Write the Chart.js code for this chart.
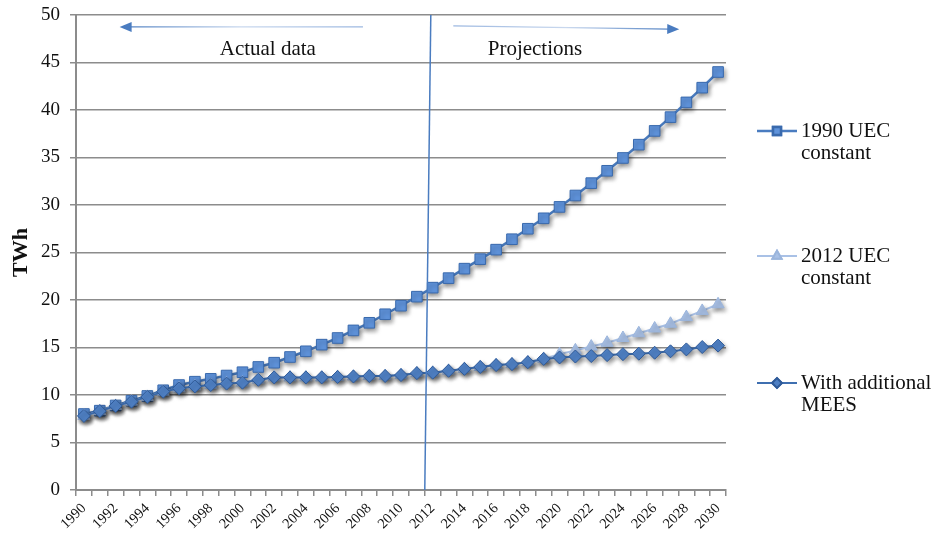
<!DOCTYPE html>
<html>
<head>
<meta charset="utf-8">
<script src="https://cdn.jsdelivr.net/npm/chart.js@4/dist/chart.umd.min.js"></script>
<style>
  html, body { margin: 0; padding: 0; background: #fff; }
  #wrap { width: 936px; height: 537px; position: relative; }
</style>
</head>
<body>
<div id="wrap"><canvas id="chart"></canvas></div>
<script>
const years = ["1990", "1991", "1992", "1993", "1994", "1995", "1996", "1997", "1998", "1999",
  "2000", "2001", "2002", "2003", "2004", "2005", "2006", "2007", "2008", "2009",
  "2010", "2011", "2012", "2013", "2014", "2015", "2016", "2017", "2018", "2019",
  "2020", "2021", "2022", "2023", "2024", "2025", "2026", "2027", "2028", "2029", "2030"];

const uec1990 = [8.0, 8.35, 8.9, 9.4, 9.9, 10.5, 11.05, 11.4, 11.7, 12.05,
  12.4, 12.95, 13.4, 14.0, 14.6, 15.3, 16.0, 16.8, 17.6, 18.5,
  19.4, 20.35, 21.3, 22.3, 23.3, 24.3, 25.3, 26.4, 27.5, 28.6,
  29.8, 31.0, 32.3, 33.6, 34.95, 36.35, 37.8, 39.25, 40.8, 42.35, 44.0];

const uec2012 = [7.8, 8.3, 8.85, 9.3, 9.8, 10.35, 10.7, 10.9, 11.05, 11.2,
  11.3, 11.6, 11.85, 11.85, 11.85, 11.85, 11.9, 11.95, 12.0, 12.0,
  12.1, 12.3, 12.35, 12.55, 12.75, 12.95, 13.15, 13.25, 13.45, 13.8,
  14.3, 14.7, 15.1, 15.5, 16.0, 16.5, 17.0, 17.5, 18.2, 18.85, 19.55];

const withMees = [7.8, 8.3, 8.85, 9.3, 9.8, 10.35, 10.7, 10.9, 11.05, 11.2,
  11.3, 11.6, 11.85, 11.85, 11.85, 11.85, 11.9, 11.95, 12.0, 12.0,
  12.1, 12.3, 12.35, 12.55, 12.75, 12.95, 13.15, 13.25, 13.45, 13.8,
  13.95, 14.05, 14.1, 14.2, 14.3, 14.35, 14.45, 14.6, 14.8, 15.05, 15.2];

const seriesNames = [["1990 UEC", "constant"], ["2012 UEC", "constant"], ["With additional", "MEES"]];

const SERIF = "'Liberation Serif', 'Times New Roman', serif";
const BLUE = "#4a7cc0";

// annotation placement, in category index / axis value
const splitIndex = 21.5;
const notes = [
  { text: "Actual data", at: 11.6, value: 46.4 },
  { text: "Projections", at: 28.45, value: 46.4 }
];
const arrows = [
  { from: 17.6, to: 2.25, v0: 48.75, v1: 48.75 },
  { from: 23.3, to: 37.55, v0: 48.85, v1: 48.5 }
];

const shadowPlugin = {
  id: "shadow",
  beforeDatasetsDraw(chart) {
    const ctx = chart.ctx;
    ctx.save();
    ctx.shadowColor = "rgba(0,0,0,0.35)";
    ctx.shadowBlur = 4;
    ctx.shadowOffsetX = 2;
    ctx.shadowOffsetY = 3;
  },
  afterDatasetsDraw(chart) {
    chart.ctx.restore();
  }
};

const notesPlugin = {
  id: "notes",
  afterDatasetsDraw(chart) {
    const ctx = chart.ctx;
    const x = chart.scales.x, y = chart.scales.y;
    ctx.save();
    // split line
    ctx.strokeStyle = BLUE;
    ctx.lineWidth = 1.5;
    ctx.beginPath();
    ctx.moveTo(x.getPixelForValue(splitIndex), y.getPixelForValue(0));
    ctx.lineTo(x.getPixelForValue(splitIndex + 0.38), y.getPixelForValue(50));
    ctx.stroke();

    arrows.forEach(a => {
      const x0 = x.getPixelForValue(a.from), y0 = y.getPixelForValue(a.v0);
      const x1 = x.getPixelForValue(a.to), y1 = y.getPixelForValue(a.v1);
      const ang = Math.atan2(y1 - y0, x1 - x0);
      const grad = ctx.createLinearGradient(x0, y0, x1, y1);
      grad.addColorStop(0, "#9bb7e0");
      grad.addColorStop(0.5, "#c9d8ee");
      grad.addColorStop(1, BLUE);
      ctx.strokeStyle = grad;
      ctx.lineWidth = 1.2;
      ctx.beginPath();
      ctx.moveTo(x0, y0);
      ctx.lineTo(x1 - Math.cos(ang) * 10, y1 - Math.sin(ang) * 10);
      ctx.stroke();
      ctx.fillStyle = BLUE;
      ctx.beginPath();
      ctx.moveTo(x1, y1);
      ctx.lineTo(x1 - Math.cos(ang) * 12 - Math.sin(ang) * 5, y1 - Math.sin(ang) * 12 + Math.cos(ang) * 5);
      ctx.lineTo(x1 - Math.cos(ang) * 12 + Math.sin(ang) * 5, y1 - Math.sin(ang) * 12 - Math.cos(ang) * 5);
      ctx.closePath();
      ctx.fill();
    });

    ctx.fillStyle = "#111";
    ctx.font = "21px " + SERIF;
    ctx.textAlign = "center";
    ctx.textBaseline = "middle";
    notes.forEach(n => ctx.fillText(n.text, x.getPixelForValue(n.at), y.getPixelForValue(n.value)));
    ctx.restore();
  }
};

const legendPlugin = {
  id: "sideLegend",
  afterDraw(chart) {
    const ctx = chart.ctx;
    const area = chart.chartArea;
    const rows = [131, 256, 383];
    ctx.save();
    chart.data.datasets.forEach((ds, i) => {
      const ly = rows[i];
      const lx = area.right + 31;
      ctx.strokeStyle = ds.borderColor;
      ctx.lineWidth = ds.borderWidth;
      ctx.beginPath();
      ctx.moveTo(lx, ly);
      ctx.lineTo(lx + 40, ly);
      ctx.stroke();
      Chart.helpers.drawPoint(ctx, {
        pointStyle: ds.pointStyle,
        radius: ds.pointRadius * 0.75,
        borderWidth: 1
      }, lx + 20, ly);
      ctx.fillStyle = ds.pointBackgroundColor;
      ctx.strokeStyle = ds.pointBorderColor;
      ctx.fill();
      ctx.stroke();
      ctx.fillStyle = "#111";
      ctx.font = "21px " + SERIF;
      ctx.textAlign = "left";
      ctx.textBaseline = "middle";
      ds.label.forEach((t, k) => ctx.fillText(t, lx + 44, ly + k * 22));
    });
    ctx.restore();
  }
};

new Chart(document.getElementById("chart"), {
  type: "line",
  data: {
    labels: years,
    datasets: [
      {
        label: seriesNames[0],
        data: uec1990,
        borderColor: BLUE,
        borderWidth: 2.5,
        pointStyle: "rect",
        pointRadius: 7.5,
        pointBackgroundColor: "#5f93db",
        pointBorderColor: "#3a6aad",
        pointBorderWidth: 1,
        order: 2
      },
      {
        label: seriesNames[1],
        data: uec2012,
        borderColor: "#a9c1e6",
        borderWidth: 2,
        pointStyle: "triangle",
        pointRadius: 7,
        pointBackgroundColor: "#a9c1e6",
        pointBorderColor: "#9bb5dc",
        pointBorderWidth: 1,
        order: 1
      },
      {
        label: seriesNames[2],
        data: withMees,
        borderColor: "#3f6fb0",
        borderWidth: 2,
        pointStyle: "rectRot",
        pointRadius: 6.5,
        pointBackgroundColor: "#4f80c4",
        pointBorderColor: "#2f5a98",
        pointBorderWidth: 1,
        order: 0
      }
    ]
  },
  options: {
    responsive: true,
    maintainAspectRatio: false,
    animation: false,
    layout: { padding: { top: 15, right: 210, left: 0, bottom: 0 } },
    plugins: { legend: { display: false }, tooltip: { enabled: false } },
    elements: { line: { tension: 0 } },
    scales: {
      x: {
        offset: true,
        grid: { offset: true, drawOnChartArea: false, drawTicks: true, tickLength: 6, color: "#8c8c8c", lineWidth: 1.5 },
        border: { color: "#8c8c8c", width: 2 },
        ticks: {
          autoSkip: false,
          maxRotation: 45,
          minRotation: 45,
          padding: 4,
          color: "#111",
          font: { family: SERIF, size: 14.5 },
          callback: (v, i) => (i % 2 === 0 ? years[i] : "")
        },
        afterFit: s => { s.height = 47; s.paddingLeft = 0; s.paddingRight = 0; }
      },
      y: {
        min: 0,
        max: 50,
        grid: { color: "#8c8c8c", lineWidth: 1.5, tickLength: 6 },
        border: { color: "#8c8c8c", width: 2 },
        ticks: { stepSize: 5, padding: 10, color: "#111", font: { family: SERIF, size: 19 } },
        title: { display: true, text: "TWh", color: "#111", font: { family: SERIF, size: 22, weight: "bold" }, padding: { top: 8, bottom: 0 } },
        afterFit: s => { s.width = 76; s.paddingTop = 0; s.paddingBottom = 0; }
      }
    }
  },
  plugins: [shadowPlugin, notesPlugin, legendPlugin]
});
</script>
</body>
</html>
